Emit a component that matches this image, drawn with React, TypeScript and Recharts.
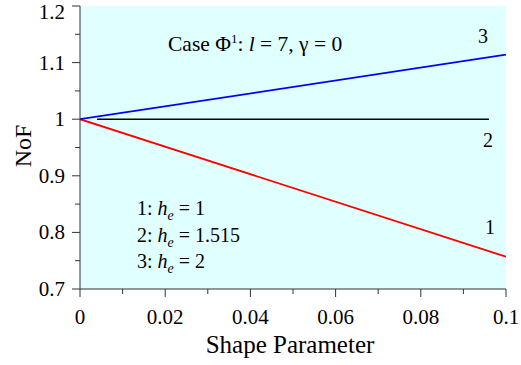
import { LineChart, Line, XAxis, YAxis, CartesianGrid } from 'recharts';

const FONT = '"Liberation Serif", "Times New Roman", serif';

// curve data (shape parameter vs NoF)
const shapeParam = [0, 0.1];
const nofHe1 = [1, 0.757];
const nofHe3 = [1, 1.114];
const shapeParamHe2 = [0.004, 0.096];
const nofHe2 = [1, 1];

const xMajorTicks = [0, 0.02, 0.04, 0.06, 0.08, 0.1];
const xTickLabels = ['0', '0.02', '0.04', '0.06', '0.08', '0.1'];
const xMinorTicks = [0.01, 0.03, 0.05, 0.07, 0.09];
const yMajorTicks = [0.7, 0.8, 0.9, 1, 1.1, 1.2];
const yTickLabels = ['0.7', '0.8', '0.9', '1', '1.1', '1.2'];
const yMinorTicks = [0.75, 0.85, 0.95, 1.05, 1.15];

const toPoints = (xs: number[], ys: number[]) => xs.map((x, i) => ({ x, y: ys[i] }));

const xTicks = [...xMajorTicks, ...xMinorTicks].sort((a, b) => a - b);
const yTicks = [...yMajorTicks, ...yMinorTicks].sort((a, b) => a - b);

const findMajor = (list: number[], v: number) => list.findIndex(t => Math.abs(t - v) < 1e-9);

const XTick = ({ x, y, payload }: any) => {
  const idx = findMajor(xMajorTicks, payload.value);
  const major = idx >= 0;
  return (
    <g>
      <line x1={x} y1={y} x2={x} y2={y + (major ? 8 : 5)} stroke="#333" strokeWidth={1} />
      {major && (
        <text x={x} y={y + 35} textAnchor="middle" fontSize={21} fontFamily={FONT} fill="#000">
          {xTickLabels[idx]}
        </text>
      )}
    </g>
  );
};

const YTick = ({ x, y, payload }: any) => {
  const idx = findMajor(yMajorTicks, payload.value);
  const major = idx >= 0;
  // keep the top label inside the picture
  const dy = idx === yMajorTicks.length - 1 ? 13 : 7;
  return (
    <g>
      <line x1={x - (major ? 8 : 5)} y1={y} x2={x} y2={y} stroke="#333" strokeWidth={1} />
      {major && (
        <text x={x - 15} y={y + dy} textAnchor="end" fontSize={21} fontFamily={FONT} fill="#000">
          {yTickLabels[idx]}
        </text>
      )}
    </g>
  );
};

const legendRows = [
  { n: '1', v: '1' },
  { n: '2', v: '1.515' },
  { n: '3', v: '2' },
];

export default function App() {
  return (
    <div style={{ position: 'absolute', left: 0, top: 0, width: 521, height: 365, background: '#fff' }}>
      <LineChart
        width={521}
        height={365}
        margin={{ top: 6, right: 15, bottom: 16, left: 20 }}
      >
        <CartesianGrid horizontal={false} vertical={false} fill="#e0ffff" />
        <XAxis
          type="number"
          dataKey="x"
          domain={[0, 0.1]}
          ticks={xTicks}
          interval={0}
          tick={<XTick />}
          tickLine={false}
          tickSize={0}
          tickMargin={0}
          height={60}
          axisLine={{ stroke: '#333' }}
          allowDataOverflow
        />
        <YAxis
          type="number"
          domain={[0.7, 1.2]}
          ticks={yTicks}
          interval={0}
          tick={<YTick />}
          tickLine={false}
          tickSize={0}
          tickMargin={0}
          width={60}
          axisLine={{ stroke: '#333' }}
          allowDataOverflow
        />
        <Line data={toPoints(shapeParam, nofHe1)} dataKey="y" stroke="#ff0000" strokeWidth={1.8} dot={false} isAnimationActive={false} />
        <Line data={toPoints(shapeParamHe2, nofHe2)} dataKey="y" stroke="#000000" strokeWidth={1.6} dot={false} isAnimationActive={false} />
        <Line data={toPoints(shapeParam, nofHe3)} dataKey="y" stroke="#0000ff" strokeWidth={1.8} dot={false} isAnimationActive={false} />
      </LineChart>
      <svg width={521} height={365} style={{ position: 'absolute', left: 0, top: 0, pointerEvents: 'none' }}>
        <g fontFamily={FONT} fill="#000" fontSize={20}>
          <text x={168} y={51} fontSize={21.5}>
            Case Φ<tspan fontSize={13} dy={-8}>1</tspan>
            <tspan dy={8}>: </tspan>
            <tspan fontStyle="italic">l</tspan> = 7, γ = 0
          </text>
          <text x={483} y={43} textAnchor="middle">3</text>
          <text x={488} y={147} textAnchor="middle">2</text>
          <text x={490} y={234} textAnchor="middle">1</text>
          {legendRows.map((r, i) => (
            <text key={r.n} x={137} y={215 + i * 26.5}>
              {r.n}: <tspan fontStyle="italic">h</tspan>
              <tspan fontStyle="italic" fontSize={14} dy={5}>e</tspan>
              <tspan dy={-5}> = {r.v}</tspan>
            </text>
          ))}
          <text x={290} y={353} textAnchor="middle" fontSize={25}>Shape Parameter</text>
          <text x={0} y={0} textAnchor="middle" fontSize={24} transform="translate(31 146) rotate(-90)">NoF</text>
        </g>
      </svg>
    </div>
  );
}
